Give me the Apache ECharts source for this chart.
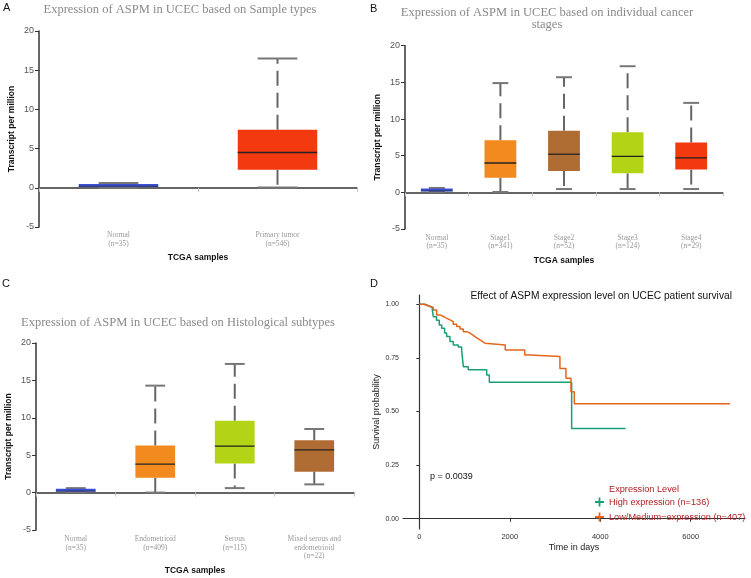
<!DOCTYPE html>
<html>
<head>
<meta charset="utf-8">
<title>ASPM expression in UCEC</title>
<script src="https://cdn.jsdelivr.net/npm/echarts@6/dist/echarts.min.js"></script>
<style>
  html, body { margin: 0; padding: 0; background: #fff; }
  #main { width: 751px; height: 578px; }
</style>
</head>
<body>
<div id="main"></div>
<script>
// box stats are [min, q1, median, q3, max] in TPM
var aCategories = ['Normal\n(n=35)', 'Primary tumor\n(n=546)'];
var aStats = [
  [0.05, 0.1, 0.2, 0.35, 0.6],
  [0.05, 2.3, 4.5, 7.4, 16.5]
];

var bCategories = ['Normal\n(n=35)', 'Stage1\n(n=341)', 'Stage2\n(n=52)', 'Stage3\n(n=124)', 'Stage4\n(n=29)'];
var bStats = [
  [0.05, 0.1, 0.2, 0.35, 0.6],
  [0.05, 2.0, 4.0, 7.1, 14.9],
  [0.45, 2.9, 5.2, 8.4, 15.7],
  [0.45, 2.6, 4.9, 8.2, 17.2],
  [0.45, 3.1, 4.7, 6.8, 12.2]
];

var cCategories = ['Normal\n(n=35)', 'Endometrioid\n(n=409)', 'Serous\n(n=115)', 'Mixed serous and\nendometrioid\n(n=22)'];
var cStats = [
  [0.05, 0.1, 0.2, 0.35, 0.6],
  [0.0, 2.0, 3.8, 6.3, 14.3],
  [0.6, 3.9, 6.2, 9.6, 17.2],
  [1.1, 2.8, 5.7, 7.0, 8.5]
];

// Kaplan-Meier curves, [days, survival probability]
var highSurv = [
  [0, 1.00], [120, 0.993], [200, 0.985], [288, 0.973], [310, 0.942], [380, 0.925],
  [442, 0.903], [495, 0.888], [560, 0.866], [605, 0.849], [678, 0.826], [752, 0.81],
  [862, 0.80], [937, 0.787], [973, 0.709], [1083, 0.694], [1490, 0.67], [1548, 0.636],
  [3368, 0.421], [4560, 0.421]
];
var lowSurv = [
  [0, 1.00], [100, 0.993], [200, 0.985], [310, 0.973], [384, 0.95], [460, 0.943],
  [530, 0.935], [600, 0.927], [678, 0.919], [750, 0.907], [826, 0.896], [900, 0.884],
  [973, 0.872], [1050, 0.865], [1120, 0.857], [1180, 0.849], [1231, 0.841], [1290, 0.834],
  [1341, 0.826], [1400, 0.818], [1452, 0.81], [1900, 0.787], [2330, 0.763], [2450, 0.756],
  [3109, 0.70], [3242, 0.655], [3353, 0.592], [3427, 0.536], [6866, 0.536]
];
var survTicks = [0, 0.25, 0.5, 0.75, 1.0];
var dayTicks = [0, 2000, 4000, 6000];

var aColors = ['#3b4fd2', '#f2390f'];
var bColors = ['#3b4fd2', '#f28a1f', '#b06d33', '#b3d317', '#f2390f'];
var cColors = ['#3b4fd2', '#f28a1f', '#b3d317', '#b06d33'];

var myChart = echarts.init(document.getElementById('main'));

function boxData(stats) {
  return stats.map(function (s, i) { return [i].concat(s); });
}

function boxSeries(idx, stats, colors) {
  return {
    type: 'custom',
    xAxisIndex: idx,
    yAxisIndex: idx,
    data: boxData(stats),
    encode: { x: 0, y: [1, 2, 3, 4, 5] },
    renderItem: function (params, api) {
      var i = api.value(0);
      var pMin = api.coord([i, api.value(1)]);
      var pQ1 = api.coord([i, api.value(2)]);
      var pMed = api.coord([i, api.value(3)]);
      var pQ3 = api.coord([i, api.value(4)]);
      var pMax = api.coord([i, api.value(5)]);
      var band = api.size([1, 0])[0];
      var half = band * 0.25;
      var cap = band * 0.125;
      var cx = pMed[0];
      var wStyle = { stroke: '#666', lineWidth: 2, lineDash: [15, 7] };
      var cStyle = { stroke: '#777', lineWidth: 2 };
      var h = Math.max(pQ1[1] - pQ3[1], 3);
      return {
        type: 'group',
        children: [
          { type: 'line', shape: { x1: cx, y1: pQ3[1], x2: cx, y2: pMax[1] }, style: wStyle },
          { type: 'line', shape: { x1: cx, y1: pQ1[1], x2: cx, y2: pMin[1] }, style: wStyle },
          { type: 'line', shape: { x1: cx - cap, y1: pMax[1], x2: cx + cap, y2: pMax[1] }, style: cStyle },
          { type: 'line', shape: { x1: cx - cap, y1: pMin[1], x2: cx + cap, y2: pMin[1] }, style: cStyle },
          { type: 'rect', shape: { x: cx - half, y: pQ1[1] - h, width: half * 2, height: h },
            style: { fill: colors[params.dataIndex] } },
          { type: 'line', shape: { x1: cx - half, y1: pMed[1], x2: cx + half, y2: pMed[1] },
            style: { stroke: '#222', lineWidth: h > 4 ? 1.3 : 0.6 } }
        ]
      };
    }
  };
}

function boxX(idx, cats, margin, nameGap) {
  return {
    type: 'category',
    gridIndex: idx,
    data: cats,
    name: 'TCGA samples',
    nameLocation: 'middle',
    nameGap: nameGap,
    nameTextStyle: { fontFamily: 'Liberation Sans', fontWeight: 'bold', fontSize: 8.5, color: '#111' },
    axisLine: { lineStyle: { color: '#333', width: 1.5 } },
    axisTick: { show: true, length: 4, lineStyle: { color: '#b4c6e2' } },
    axisLabel: { fontFamily: 'Liberation Serif', fontSize: 7.5, lineHeight: 8.5, color: '#999', margin: margin }
  };
}

function boxY(idx, nameGap) {
  return {
    type: 'value',
    gridIndex: idx,
    min: -5,
    max: 20,
    interval: 5,
    name: 'Transcript per million',
    nameLocation: 'middle',
    nameGap: nameGap,
    nameTextStyle: { fontFamily: 'Liberation Sans', fontWeight: 'bold', fontSize: 8.5, color: '#111' },
    axisLine: { show: true, lineStyle: { color: '#333', width: 1.5 } },
    axisTick: { show: true, length: 4, lineStyle: { color: '#333' } },
    axisLabel: { fontFamily: 'Liberation Sans', fontSize: 9, color: '#555', margin: 5 },
    splitLine: { show: false }
  };
}

function label(text, x, y, size, extra) {
  var style = {
    text: text, x: x, y: y,
    fontFamily: 'Liberation Sans', fontSize: size, fill: '#111',
    textAlign: 'left', textVerticalAlign: 'middle'
  };
  for (var k in extra) style[k] = extra[k];
  return { type: 'text', style: style };
}

var serifTitle = { fontFamily: 'Liberation Serif', fill: '#8a8a8a', textAlign: 'center' };

var option = {
  animation: false,
  grid: [
    { left: 39, right: 394, top: 31, bottom: 351 },
    { left: 405, right: 28, top: 45.7, bottom: 349 },
    { left: 36, right: 397, top: 343, bottom: 48 },
    { left: 403, right: 6, top: 295, bottom: 49 }
  ],
  xAxis: [
    boxX(0, aCategories, 4, 26.5),
    boxX(1, bCategories, 4.5, 27.5),
    boxX(2, cCategories, 5, 36),
    {
      type: 'value',
      gridIndex: 3,
      min: -360,
      max: 7200,
      name: 'Time in days',
      nameLocation: 'middle',
      nameGap: 14,
      nameTextStyle: { fontFamily: 'Liberation Sans', fontSize: 9, color: '#222' },
      axisLine: { lineStyle: { color: '#333', width: 1.2 } },
      axisTick: { show: true, length: 3, customValues: dayTicks, lineStyle: { color: '#333' } },
      axisLabel: {
        customValues: dayTicks, fontFamily: 'Liberation Sans', fontSize: 7.5, color: '#333', margin: 4,
        formatter: function (v) { return String(v); }
      },
      splitLine: { show: false }
    }
  ],
  yAxis: [
    boxY(0, 23),
    boxY(1, 23),
    boxY(2, 23),
    {
      type: 'value',
      gridIndex: 3,
      min: -0.048,
      max: 1.043,
      name: 'Survival probability',
      nameLocation: 'middle',
      nameGap: 20,
      nameTextStyle: { fontFamily: 'Liberation Sans', fontSize: 9, color: '#222' },
      axisLine: { show: true, lineStyle: { color: '#333', width: 1.2 } },
      axisTick: { show: true, length: 3, customValues: survTicks, lineStyle: { color: '#333' } },
      axisLabel: {
        customValues: survTicks,
        fontFamily: 'Liberation Sans', fontSize: 7, color: '#333', margin: 4,
        formatter: function (v) { return v.toFixed(2); }
      },
      splitLine: { show: false }
    }
  ],
  legend: {
    left: 595,
    top: 496,
    padding: 0,
    orient: 'vertical',
    itemWidth: 9,
    itemHeight: 9,
    itemGap: 3,
    icon: 'path://M4,0H6V4H10V6H6V10H4V6H0V4H4Z',
    textStyle: { fontFamily: 'Liberation Sans', fontSize: 9.2, lineHeight: 12, color: '#b22222' },
    data: ['High expression (n=136)', 'Low/Medium\u2212expression (n=407)']
  },
  graphic: [
    label('A', 3, 8, 11),
    label('B', 370, 9, 11),
    label('C', 2, 284, 11),
    label('D', 370, 284, 11),
    { type: 'text', style: Object.assign({ text: 'Expression of ASPM in UCEC based on Sample types', x: 180, y: 10, fontSize: 12.5, textVerticalAlign: 'middle' }, serifTitle) },
    { type: 'text', style: Object.assign({ text: 'Expression of ASPM in UCEC based on individual cancer\nstages', x: 547, y: 6, fontSize: 12.5, lineHeight: 12.7, textVerticalAlign: 'top' }, serifTitle) },
    { type: 'text', style: Object.assign({ text: 'Expression of ASPM in UCEC based on Histological subtypes', x: 178, y: 322.7, fontSize: 12.5, textVerticalAlign: 'middle' }, serifTitle) },
    label('Effect of ASPM expression level on UCEC patient survival', 470.5, 295.7, 10.2),
    label('p = 0.0039', 430, 476.7, 9),
    label('Expression Level', 609, 489.3, 9.2, { fill: '#b22222' })
  ],
  series: [
    boxSeries(0, aStats, aColors),
    boxSeries(1, bStats, bColors),
    boxSeries(2, cStats, cColors),
    {
      name: 'High expression (n=136)',
      type: 'line',
      step: 'end',
      xAxisIndex: 3,
      yAxisIndex: 3,
      symbol: 'none',
      itemStyle: { color: '#1b9e77' },
      lineStyle: { color: '#1b9e77', width: 1.5 },
      data: highSurv
    },
    {
      name: 'Low/Medium\u2212expression (n=407)',
      type: 'line',
      step: 'end',
      xAxisIndex: 3,
      yAxisIndex: 3,
      symbol: 'none',
      itemStyle: { color: '#e5651a' },
      lineStyle: { color: '#e5651a', width: 1.5 },
      data: lowSurv
    }
  ]
};

myChart.setOption(option);
</script>
</body>
</html>
